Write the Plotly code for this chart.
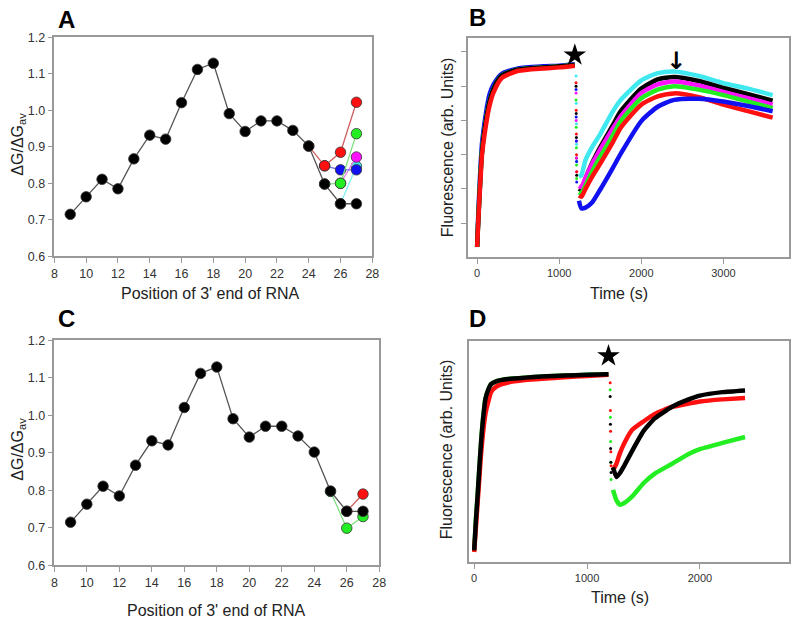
import plotly.graph_objects as go

# ---------------- Panel A / C data ----------------
pos = list(range(9, 28))
dg_main = [0.715, 0.763, 0.811, 0.785, 0.867, 0.932, 0.921, 1.021, 1.112, 1.129,
           0.991, 0.942, 0.971, 0.971, 0.945, 0.902, 0.798, 0.744, 0.744]

a_cyan_x, a_cyan_y = [26, 27], [0.744, 0.847]
a_magenta_x, a_magenta_y = [26, 27], [0.800, 0.872]
a_blue_x, a_blue_y = [25, 26, 27], [0.848, 0.837, 0.837]
a_green_x, a_green_y = [25, 26, 27], [0.798, 0.800, 0.936]
a_red_x, a_red_y = [24, 25, 26, 27], [0.902, 0.848, 0.885, 1.022]

c_red_x, c_red_y = [26, 27], [0.744, 0.790]
c_green_x, c_green_y = [25, 26, 27], [0.797, 0.699, 0.730]

# ---------------- Panel B data ----------------
b_t1 = [0, 10, 20, 40, 60, 100, 150, 200, 300, 500, 800, 1000, 1190]
b_p1 = [0.3, 0.9, 1.41, 2.36, 3.12, 3.89, 4.55, 4.93, 5.31, 5.49, 5.55, 5.58, 5.62]
b_p1_blue = [0.35, 1.0, 1.6, 2.6, 3.35, 4.1, 4.75, 5.05, 5.36, 5.52, 5.58, 5.6, 5.64]
b_p1_red = [0.3, 0.85, 1.35, 2.25, 3.0, 3.75, 4.42, 4.82, 5.24, 5.45, 5.52, 5.55, 5.6]

b_t2 = [1240, 1270, 1320, 1400, 1500, 1650, 1750, 2000, 2200, 2400, 2700, 3000, 3300, 3600]
b_cyan = [2.35, 2.4, 2.84, 3.22, 3.6, 4.25, 4.6, 5.17, 5.38, 5.43, 5.3, 5.09, 4.93, 4.74]
b_black = [2.0, 1.97, 2.3, 2.75, 3.22, 3.85, 4.27, 4.93, 5.2, 5.27, 5.15, 4.95, 4.77, 4.58]
b_magenta = [2.08, 2.05, 2.32, 2.72, 3.15, 3.75, 4.12, 4.8, 5.05, 5.14, 5.02, 4.83, 4.65, 4.46]
b_green = [1.9, 1.87, 2.1, 2.5, 2.94, 3.55, 3.98, 4.65, 4.9, 5.0, 4.9, 4.74, 4.55, 4.36]
b_red = [1.8, 1.77, 2.0, 2.35, 2.74, 3.35, 3.79, 4.46, 4.7, 4.79, 4.68, 4.46, 4.27, 4.08]
b_blue = [1.65, 1.43, 1.45, 1.6, 1.98, 2.6, 3.03, 3.98, 4.4, 4.6, 4.63, 4.55, 4.42, 4.27]

b_drop_t = [1205, 1207, 1209, 1211, 1213]
b_drop = {
    "cyan": [5.3, 4.5, 3.9, 3.3, 2.8],
    "black": [5.0, 4.2, 3.5, 2.9, 2.4],
    "magenta": [4.8, 4.0, 3.4, 2.9, 2.5],
    "green": [4.6, 3.8, 3.2, 2.7, 2.3],
    "red": [5.1, 4.3, 3.6, 3.0, 2.5],
    "blue": [4.9, 4.1, 3.4, 2.8, 2.2],
}
b_star_t, b_star_y = [1190], [5.91]

# ---------------- Panel D data ----------------
d_t1 = [0, 15, 30, 45, 60, 80, 100, 125, 150, 200, 300, 450, 600, 800, 1000, 1190]
d_p1 = [0.35, 1.2, 1.91, 2.7, 3.43, 4.2, 4.74, 5.0, 5.16, 5.25, 5.31, 5.35, 5.38, 5.41, 5.43, 5.45]
d_p1_red = [0.3, 1.0, 1.7, 2.4, 3.1, 3.8, 4.3, 4.65, 4.93, 5.1, 5.21, 5.28, 5.32, 5.36, 5.4, 5.43]

d_t2 = [1230, 1260, 1290, 1330, 1400, 1500, 1600, 1750, 1900, 2000, 2200, 2400]
d_black = [2.75, 2.47, 2.58, 2.8, 3.23, 3.8, 4.17, 4.5, 4.72, 4.83, 4.93, 4.98]
d_red = [2.66, 2.85, 3.15, 3.45, 3.84, 4.08, 4.3, 4.5, 4.6, 4.66, 4.72, 4.76]
d_green = [2.1, 1.8, 1.67, 1.72, 1.91, 2.29, 2.57, 2.85, 3.14, 3.28, 3.46, 3.63]

d_drop_t = [1205, 1207, 1209, 1211, 1213]
d_drop = {
    "green": [5.0, 4.2, 3.5, 2.9, 2.4],
    "red": [5.2, 4.4, 3.8, 3.2, 2.8],
    "black": [4.8, 4.0, 3.3, 2.9, 2.6],
}
d_star_t, d_star_y = [1190], [5.98]

COL = {"black": "#000000", "red": "#ff1010", "blue": "#1010f0", "green": "#22ee22",
       "magenta": "#ff10ff", "cyan": "#40e8f0"}
LINECOL = {"black": "#555555", "red": "#d06060", "blue": "#7070e0", "green": "#80e080",
           "magenta": "#f080f0", "cyan": "#80f0f0"}
FONT = "Liberation Sans, Arial, sans-serif"

fig = go.Figure()


def dg_trace(x, y, color, xa, ya):
    fig.add_trace(go.Scatter(
        x=x, y=y, mode="lines+markers", xaxis=xa, yaxis=ya,
        line=dict(color=LINECOL[color], width=1.3),
        marker=dict(size=10.5, color=COL[color], line=dict(color="#333333", width=0.8)),
        showlegend=False))


# Panel A
dg_trace(a_cyan_x, a_cyan_y, "cyan", "x", "y")
dg_trace(a_magenta_x, a_magenta_y, "magenta", "x", "y")
dg_trace(a_blue_x, a_blue_y, "blue", "x", "y")
dg_trace(a_green_x, a_green_y, "green", "x", "y")
dg_trace(a_red_x, a_red_y, "red", "x", "y")
dg_trace(pos, dg_main, "black", "x", "y")

# Panel C
dg_trace(c_red_x, c_red_y, "red", "x3", "y3")
dg_trace(c_green_x, c_green_y, "green", "x3", "y3")
dg_trace(pos, dg_main, "black", "x3", "y3")


def band(x, y, color, xa, ya, w=4.5, sm=0.6):
    fig.add_trace(go.Scatter(
        x=x, y=y, mode="lines", xaxis=xa, yaxis=ya,
        line=dict(color=COL[color], width=w, shape="spline", smoothing=sm),
        showlegend=False))


def dots(x, y, color, xa, ya):
    fig.add_trace(go.Scatter(
        x=x, y=y, mode="markers", xaxis=xa, yaxis=ya,
        marker=dict(size=3, color=COL[color]), showlegend=False))


# Panel B
band(b_t1, b_p1_blue, "blue", "x2", "y2")
band(b_t1, b_p1, "cyan", "x2", "y2")
band(b_t1, b_p1, "green", "x2", "y2")
band(b_t1, b_p1, "black", "x2", "y2")
band(b_t1, b_p1_red, "red", "x2", "y2")
for c in ["cyan", "black", "magenta", "green", "red", "blue"]:
    dots(b_drop_t, b_drop[c], c, "x2", "y2")
band(b_t2, b_cyan, "cyan", "x2", "y2")
band(b_t2, b_black, "black", "x2", "y2")
band(b_t2, b_magenta, "magenta", "x2", "y2")
band(b_t2, b_green, "green", "x2", "y2")
band(b_t2, b_red, "red", "x2", "y2")
band(b_t2, b_blue, "blue", "x2", "y2")
fig.add_trace(go.Scatter(x=b_star_t, y=b_star_y, mode="markers", xaxis="x2", yaxis="y2",
                         marker=dict(symbol="star", size=17, color="black"), showlegend=False))

# Panel D
band(d_t1, d_p1, "green", "x4", "y4")
band(d_t1, d_p1_red, "red", "x4", "y4")
band(d_t1, d_p1, "black", "x4", "y4")
for c in ["green", "red", "black"]:
    dots(d_drop_t, d_drop[c], c, "x4", "y4")
band(d_t2, d_green, "green", "x4", "y4", sm=0.4)
band(d_t2, d_red, "red", "x4", "y4", sm=0.4)
band(d_t2, d_black, "black", "x4", "y4", sm=0.4)
fig.add_trace(go.Scatter(x=d_star_t, y=d_star_y, mode="markers", xaxis="x4", yaxis="y4",
                         marker=dict(symbol="star", size=17, color="black"), showlegend=False))


def axis(domain, rng, **kw):
    d = dict(domain=domain, range=rng, showline=True, mirror=True, linecolor="#999999",
             linewidth=1.5, ticks="outside", ticklen=5, tickcolor="#999999", tickwidth=1,
             showgrid=False, zeroline=False,
             tickfont=dict(family=FONT, size=12.5, color="#333333"))
    d.update(kw)
    return d


W, H = 800, 628


def px(v):
    return v / W


def py(v):
    return 1 - v / H


small_tick = dict(family=FONT, size=11, color="#333333")
fig.update_layout(
    width=W, height=H, margin=dict(l=0, r=0, t=0, b=0),
    paper_bgcolor="white", plot_bgcolor="white", showlegend=False,
    xaxis=axis([px(52), px(374)], [8, 28], anchor="y", tickvals=list(range(8, 29, 2))),
    yaxis=axis([py(255), py(31)], [0.6, 1.2], anchor="x", tickvals=[0.6, 0.7, 0.8, 0.9, 1.0, 1.1, 1.2],
               tickformat=".1f"),
    xaxis3=axis([px(52), px(381)], [8, 28], anchor="y3", tickvals=list(range(8, 29, 2))),
    yaxis3=axis([py(571), py(341)], [0.6, 1.2], anchor="x3", tickvals=[0.6, 0.7, 0.8, 0.9, 1.0, 1.1, 1.2],
                tickformat=".1f"),
    xaxis2=axis([px(471), px(796)], [-110, 3800], anchor="y2", tickvals=[0, 1000, 2000, 3000],
                tickfont=small_tick),
    yaxis2=axis([py(256), py(32)], [0, 6.4], anchor="x2", tickvals=[1, 2, 3, 4, 5, 6],
                showticklabels=False),
    xaxis4=axis([px(472), px(796)], [-45, 2790], anchor="y4", tickvals=[0, 1000, 2000],
                tickfont=small_tick),
    yaxis4=axis([py(568), py(342)], [0, 6.4], anchor="x4", ticks="", showticklabels=False),
)

ann = []
letter_font = dict(family=FONT, size=24, color="black")
for t, x, y in [("A", 54, -3), ("B", 470, -5), ("C", 54, 303), ("D", 470, 303)]:
    ann.append(dict(text=f"<b>{t}</b>", x=px(x), y=py(y), xref="paper", yref="paper",
                    xanchor="left", yanchor="top", showarrow=False, font=letter_font))
title_font = dict(family=FONT, size=16, color="#222222")
for t, x, y, ang in [
    ("Position of 3' end of RNA", 210, 293, 0),
    ("ΔG/ΔG<sub>av</sub>", 16, 140, -90),
    ("Position of 3' end of RNA", 216, 617, 0),
    ("ΔG/ΔG<sub>av</sub>", 16, 452, -90),
    ("Time (s)", 624, 293, 0),
    ("Fluorescence (arb. Units)", 450, 143, -90),
    ("Time (s)", 625, 604, 0),
    ("Fluorescence (arb. Units)", 450, 452, -90),
]:
    ann.append(dict(text=t, x=px(x), y=py(y), xref="paper", yref="paper",
                    xanchor="center", yanchor="middle", showarrow=False, textangle=ang,
                    font=title_font))
ann.append(dict(text="<b>↓</b>", x=2424, y=5.75, xref="x2", yref="y2", showarrow=False,
                font=dict(family="DejaVu Sans", size=24, color="black")))
fig.update_layout(annotations=ann)

fig.write_html("out.html", config={"displayModeBar": False},
               post_script="document.body.style.margin='0';document.body.style.overflow='hidden';")
